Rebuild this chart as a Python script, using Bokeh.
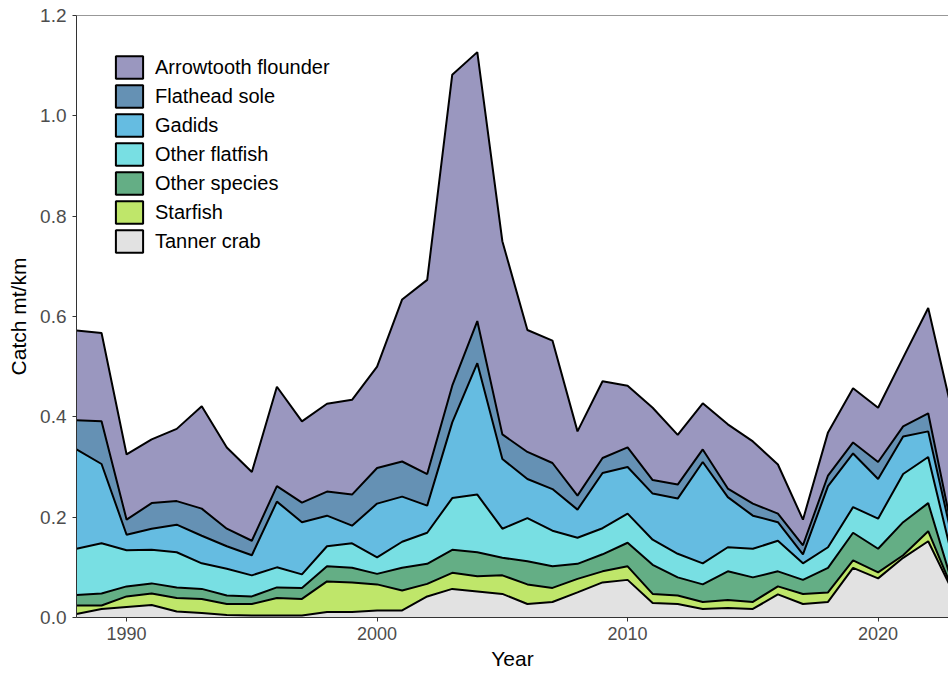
from bokeh.plotting import figure
from bokeh.models import (ColumnDataSource, Legend, LegendItem, FixedTicker,
                          NumeralTickFormatter, Span, Range1d)
from bokeh.embed import file_html
from bokeh.resources import INLINE

years = list(range(1988, 2024))

tanner_crab = [0.007, 0.017, 0.021, 0.025, 0.012, 0.009, 0.005, 0.004, 0.004, 0.004,
               0.011, 0.011, 0.014, 0.014, 0.042, 0.057, 0.052, 0.047, 0.027, 0.031,
               0.050, 0.070, 0.075, 0.029, 0.027, 0.017, 0.019, 0.017, 0.046, 0.027,
               0.031, 0.099, 0.078, 0.119, 0.152, 0.050]
starfish = [0.017, 0.007, 0.021, 0.023, 0.027, 0.028, 0.022, 0.023, 0.035, 0.033,
            0.061, 0.059, 0.052, 0.040, 0.025, 0.032, 0.030, 0.037, 0.039, 0.028,
            0.027, 0.022, 0.027, 0.018, 0.017, 0.014, 0.016, 0.014, 0.016, 0.020,
            0.019, 0.015, 0.012, 0.005, 0.020, 0.003]
other_species = [0.021, 0.024, 0.020, 0.020, 0.021, 0.020, 0.017, 0.015, 0.021, 0.022,
                 0.030, 0.029, 0.021, 0.045, 0.040, 0.046, 0.048, 0.035, 0.046, 0.043,
                 0.030, 0.034, 0.047, 0.058, 0.036, 0.035, 0.057, 0.049, 0.030, 0.028,
                 0.049, 0.055, 0.047, 0.066, 0.056, 0.009]
other_flatfish = [0.092, 0.100, 0.072, 0.067, 0.070, 0.051, 0.053, 0.042, 0.040, 0.027,
                  0.040, 0.049, 0.033, 0.052, 0.062, 0.103, 0.115, 0.058, 0.086, 0.071,
                  0.052, 0.052, 0.058, 0.050, 0.047, 0.042, 0.048, 0.057, 0.061, 0.033,
                  0.041, 0.051, 0.060, 0.096, 0.092, 0.050]
gadids = [0.198, 0.158, 0.031, 0.042, 0.055, 0.055, 0.045, 0.040, 0.131, 0.104,
          0.061, 0.035, 0.107, 0.090, 0.054, 0.151, 0.262, 0.139, 0.078, 0.083,
          0.056, 0.110, 0.093, 0.092, 0.110, 0.202, 0.100, 0.066, 0.037, 0.018,
          0.122, 0.107, 0.079, 0.075, 0.051, 0.037]
flathead_sole = [0.058, 0.085, 0.030, 0.051, 0.047, 0.054, 0.035, 0.029, 0.031, 0.039,
                 0.048, 0.062, 0.071, 0.070, 0.063, 0.073, 0.084, 0.049, 0.054, 0.052,
                 0.028, 0.030, 0.039, 0.027, 0.028, 0.025, 0.017, 0.024, 0.017, 0.018,
                 0.021, 0.022, 0.034, 0.020, 0.036, 0.015]
arrowtooth_flounder = [0.179, 0.176, 0.130, 0.127, 0.144, 0.204, 0.162, 0.137, 0.198, 0.162,
                       0.175, 0.189, 0.202, 0.323, 0.387, 0.620, 0.536, 0.385, 0.243, 0.244,
                       0.128, 0.153, 0.123, 0.144, 0.099, 0.092, 0.128, 0.124, 0.098, 0.051,
                       0.086, 0.108, 0.108, 0.137, 0.210, 0.236]

# bottom-to-top stacking order
series_keys = ["tanner", "starfish", "other_sp", "other_flat", "gadids", "flathead", "arrowtooth"]
series_names = ["Tanner crab", "Starfish", "Other species", "Other flatfish",
                "Gadids", "Flathead sole", "Arrowtooth flounder"]
series_colors = ["#e2e2e2", "#bfe66a", "#64ae85", "#78dfe3", "#65bce1", "#6591b4", "#9a97bf"]
series_values = [tanner_crab, starfish, other_species, other_flatfish, gadids,
                 flathead_sole, arrowtooth_flounder]

y_ticks = [0.0, 0.2, 0.4, 0.6, 0.8, 1.0, 1.2]
x_ticks = [1990, 2000, 2010, 2020]

data = {"year": years}
for k, v in zip(series_keys, series_values):
    data[k] = v
source = ColumnDataSource(data)

p = figure(width=948, height=675, output_backend="svg", toolbar_location=None,
           x_range=Range1d(1988, 2022.81), y_range=Range1d(0, 1.2),
           min_border_left=76, min_border_right=0, min_border_top=15, min_border_bottom=58)

p.varea_stack(stackers=series_keys, x="year", color=series_colors, source=source)
p.vline_stack(stackers=series_keys, x="year", color="black", line_width=2, source=source)

p.xgrid.visible = False
p.ygrid.visible = False
p.outline_line_color = None
p.add_layout(Span(location=1.2, dimension="width", line_color="#333333", line_width=1))

font = "Liberation Sans"
for ax in (p.xaxis[0], p.yaxis[0]):
    ax.axis_line_color = "#333333"
    ax.major_tick_line_color = "#333333"
    ax.major_tick_out = 4
    ax.major_tick_in = 0
    ax.minor_tick_line_color = None
    ax.major_label_text_font = font
    ax.major_label_text_font_size = "18px"
    ax.major_label_text_color = "#4d4d4d"
    ax.axis_label_text_font = font
    ax.axis_label_text_font_size = "21px"
    ax.axis_label_text_font_style = "normal"
    ax.axis_label_text_color = "black"
p.yaxis.major_label_text_font_size = "19px"

p.xaxis.ticker = FixedTicker(ticks=x_ticks)
p.yaxis.ticker = FixedTicker(ticks=y_ticks)
p.yaxis.formatter = NumeralTickFormatter(format="0.0")
p.xaxis.axis_label = "Year"
p.yaxis.axis_label = "Catch mt/km"
p.xaxis.major_label_standoff = 5
p.yaxis.major_label_standoff = 6
p.xaxis.axis_label_standoff = 4
p.yaxis.axis_label_standoff = 7

# legend swatches (with black outlines), top-to-bottom order as reference
nan = float("nan")
items = []
for k, name, col in reversed(list(zip(series_keys, series_names, series_colors))):
    r = p.quad(left=[nan], right=[nan], top=[nan], bottom=[nan], fill_color=col,
               line_color="black", line_width=2)
    items.append(LegendItem(label=name, renderers=[r]))

legend = Legend(items=items, location=(36, 362), orientation="vertical",
                glyph_width=34, glyph_height=28, spacing=1, padding=0, margin=0,
                label_standoff=9, label_text_font=font, label_text_font_size="20px",
                label_text_color="black", border_line_color=None,
                background_fill_alpha=0)
p.add_layout(legend)

open("out.html", "w").write(file_html(p, INLINE))
